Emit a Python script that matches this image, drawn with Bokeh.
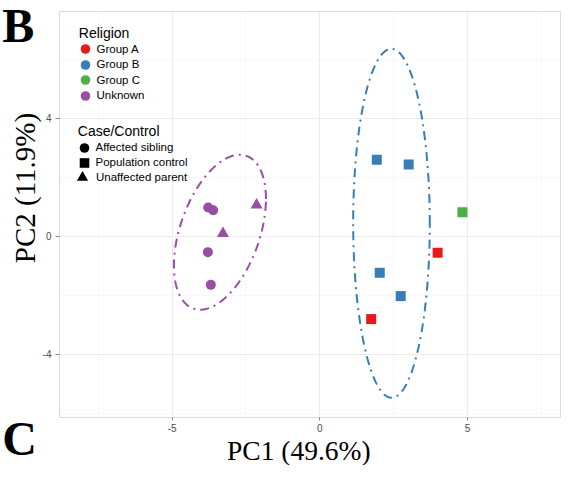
import numpy as np
from bokeh.plotting import figure
from bokeh.models import (ColumnDataSource, Range1d, FixedTicker, Label, Legend, LegendItem,
                          BoxAnnotation)
from bokeh.embed import file_html
from bokeh.resources import INLINE

# ---------------- data ----------------
pc1 = [-3.78, -3.61, -3.79, -3.69, -2.14, -3.28, 1.93, 3.01, 4.83, 3.99, 2.03, 2.74, 1.74]
pc2 = [0.97, 0.88, -0.54, -1.65, 1.06, 0.09, 2.59, 2.43, 0.81, -0.56, -1.24, -2.03, -2.81]
religion = ["Unknown", "Unknown", "Unknown", "Unknown", "Unknown", "Unknown",
            "Group B", "Group B", "Group C", "Group A", "Group B", "Group B", "Group A"]
case_control = ["Affected sibling", "Affected sibling", "Affected sibling", "Affected sibling",
                "Unaffected parent", "Unaffected parent",
                "Population control", "Population control", "Population control", "Population control",
                "Population control", "Population control", "Population control"]

religion_levels = ["Group A", "Group B", "Group C", "Unknown"]
case_levels = ["Affected sibling", "Population control", "Unaffected parent"]
x_ticks = [-5, 0, 5]
x_tick_labels = ["-5", "0", "5"]
x_minor = [-7.5, -2.5, 2.5, 7.5]
y_ticks = [-4, 0, 4]
y_tick_labels = ["-4", "0", "4"]
y_minor = [-6, -2, 2, 6]
x_panel = (-8.815, 8.151)     # visible panel limits
y_panel = (-6.146, 7.617)
x_label = "PC1 (49.6%)"
y_label = "PC2 (11.9%)"
legend1_title = "Religion"
legend2_title = "Case/Control"
panel_tags = ["B", "C"]
ellipse_level = 0.95

# ---------------- styles ----------------
colors = {"Group A": "#E41A1C", "Group B": "#377EB8", "Group C": "#4DAF4A", "Unknown": "#984EA3"}
markers = {"Affected sibling": "circle", "Population control": "square", "Unaffected parent": "triangle"}
sizes = {"Affected sibling": 10, "Population control": 10, "Unaffected parent": 12}
SANS = "Liberation Sans"
SERIF = "Liberation Serif"
BORDER = "#858585"
W, H = 561, 465

# the frame fills the whole canvas; the drawn panel sits inside it
p = figure(width=W, height=H, output_backend="svg", toolbar_location=None,
           x_range=Range1d(-10.8128, 8.1849), y_range=Range1d(-7.7729, 7.9898),
           min_border_left=0, min_border_right=0, min_border_top=0, min_border_bottom=0,
           background_fill_color="white", border_fill_color="white")
p.outline_line_color = None

p.xaxis.fixed_location = y_panel[0]
p.yaxis.fixed_location = x_panel[0]
p.xaxis.bounds = x_panel
p.yaxis.bounds = y_panel
for ax, ticks, labels in ((p.xaxis, x_ticks, x_tick_labels), (p.yaxis, y_ticks, y_tick_labels)):
    ax.ticker = FixedTicker(ticks=ticks)
    ax.major_label_overrides = {tk: lb for tk, lb in zip(ticks, labels)}
    ax.axis_line_color = None
    ax.major_tick_line_color = BORDER
    ax.major_tick_in = 0
    ax.minor_tick_line_color = None
    ax.major_label_text_font = SANS
    ax.major_label_text_font_size = "10px"
    ax.major_label_text_color = "#4D4D4D"
p.xaxis.major_tick_out = 3
p.xaxis.major_label_standoff = 3
p.yaxis.major_tick_out = 4
p.yaxis.major_label_standoff = 4

p.xgrid.ticker = FixedTicker(ticks=x_ticks, minor_ticks=x_minor)
p.ygrid.ticker = FixedTicker(ticks=y_ticks, minor_ticks=y_minor)
p.xgrid.cross_bounds = y_panel
p.ygrid.cross_bounds = x_panel
for g in (p.xgrid, p.ygrid):
    g.grid_line_color = "#EBEBEB"
    g.grid_line_width = 1.1
    g.minor_grid_line_color = "#F3F3F3"
    g.minor_grid_line_width = 0.6

p.add_layout(BoxAnnotation(left=x_panel[0], right=x_panel[1], bottom=y_panel[0], top=y_panel[1],
                           fill_alpha=0, line_color=BORDER, line_width=1))

src = ColumnDataSource(dict(
    pc1=pc1, pc2=pc2, religion=religion, case=case_control,
    color=[colors[r] for r in religion],
    marker=[markers[c] for c in case_control],
    size=[sizes[c] for c in case_control],
))
p.scatter("pc1", "pc2", source=src, marker="marker", size="size",
          fill_color="color", line_color=None)

# normal-theory 95% ellipses per religion group (groups with >= 3 points)
radius = np.sqrt(-2.0 * np.log(1.0 - ellipse_level))
t = np.linspace(0, 2 * np.pi, 361)
circle = np.vstack([np.cos(t), np.sin(t)]) * radius
for g in religion_levels:
    idx = [i for i, r in enumerate(religion) if r == g]
    if len(idx) < 3:
        continue
    pts = np.array([[pc1[i], pc2[i]] for i in idx])
    mu = pts.mean(axis=0)
    L = np.linalg.cholesky(np.cov(pts.T))
    ell = mu[:, None] + L @ circle
    p.line(ell[0], ell[1], line_color=colors[g], line_width=2, line_dash="9 5 2 5")

# ---------------- legends (one small legend per key, screen positions) ----------------
OY = H   # canvas y of the frame's bottom edge


def key(label, marker, color, cx, cy, w, h):
    r = p.scatter("pc1", "pc2", source=src, marker=marker, size=10,
                  fill_color=color, line_color=None, visible=False)
    leg = Legend(items=[LegendItem(label=label, renderers=[r])],
                 location=(cx - w / 2, OY - (cy + h / 2)),
                 orientation="vertical", glyph_width=w, glyph_height=h,
                 label_height=10, label_width=10, spacing=0, padding=0, margin=0,
                 label_standoff=0, border_line_alpha=0, background_fill_alpha=0,
                 inactive_fill_alpha=0,
                 label_text_font=SANS, label_text_font_size="11.5px", label_text_color="black")
    p.add_layout(leg)


rel_rows = [48.7, 64.0, 79.5, 95.2]
case_rows = [147.3, 162.0, 176.7]
for g, cy in zip(religion_levels, rel_rows):
    key(g, "circle", colors[g], 84.5, cy, 24, 25)
for c, cy in zip(case_levels, case_rows):
    if markers[c] == "triangle":
        key(c, markers[c], "black", 82, cy, 28, 28)
    else:
        key(c, markers[c], "black", 83.5, cy, 24, 25)


def lab(text, x, baseline, size_px, font, style="normal", angle=0.0):
    # anchor given as canvas pixels of the text's left end on its baseline
    shift = (0.3375 if font == SERIF else 0.3465) * size_px
    if angle == 0.0:
        ax_, ay_ = x, baseline - shift
    else:                       # rotated 90 deg: baseline is a vertical line at x = x
        ax_, ay_ = x - shift, baseline
    p.add_layout(Label(x=ax_, y=OY - ay_, x_units="screen", y_units="screen", text=text,
                       text_font=font, text_font_size=f"{size_px}px", text_font_style=style,
                       angle=angle, text_align="left", text_baseline="middle",
                       text_color="black"))


lab(legend1_title, 78.3, 37, 14, SANS)
lab(legend2_title, 77.3, 135, 14, SANS)
lab(x_label, 226.5, 459, 27.5, SERIF)
lab(y_label, 34, 262.7, 29, SERIF, angle=np.pi / 2)
lab(panel_tags[0], 1.7, 41, 48, SERIF, style="bold")
lab(panel_tags[1], 1.7, 454, 48, SERIF, style="bold")

open("out.html", "w").write(file_html(p, INLINE))
